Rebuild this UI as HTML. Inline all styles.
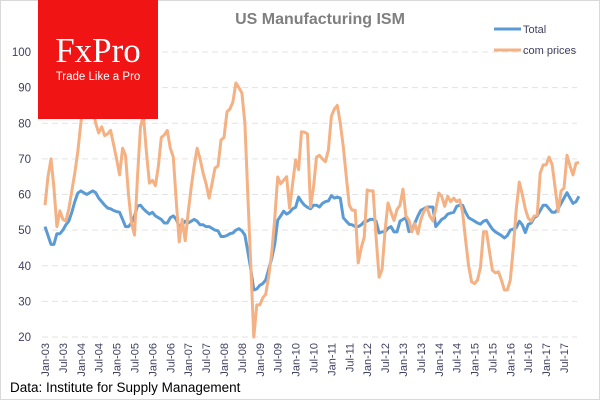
<!DOCTYPE html>
<html><head><meta charset="utf-8">
<style>
body{margin:0;background:#fff;}
#wrap{position:relative;width:600px;height:400px;overflow:hidden;font-family:"Liberation Sans",sans-serif;}
svg{position:absolute;left:0;top:0;}
</style></head>
<body>
<div id="wrap">
<svg id="chart" width="600" height="400">
  <rect x="0.5" y="0.5" width="599" height="399" fill="#fff" stroke="#d9d9d9"/>
  <g id="grid"></g>
  <g id="yaxis"></g>
  <g id="xaxis"></g>
  <g id="series"></g>
  <text x="320" y="24" text-anchor="middle" font-size="16" font-weight="bold" fill="#7f7f7f" font-family="Liberation Sans, sans-serif">US Manufacturing  ISM</text>
  <g>
    <g>
      <line x1="494" y1="29" x2="521" y2="29" stroke="#5b9bd5" stroke-width="3"/>
      <text x="523" y="33" font-size="11" fill="#404060">Total</text>
    </g>
    <g>
      <line x1="494" y1="50" x2="521" y2="50" stroke="#f4b183" stroke-width="3"/>
      <text x="523" y="54" font-size="11" fill="#404060">com prices</text>
    </g>
  </g>
  <g>
    <rect x="38" y="0" width="120" height="119" fill="#f01414"/>
    <text x="98" y="62" text-anchor="middle" font-family="Liberation Serif, serif" font-size="35" fill="#fff">FxPro</text>
    <text x="98" y="80" text-anchor="middle" font-size="11.5" fill="#fff">Trade Like a Pro</text>
  </g>
  <text x="10" y="392" font-size="13.5" fill="#000">Data: Institute for Supply Management</text>
</svg>
</div>
<script>
const yTicks = [20,30,40,50,60,70,80,90,100];
const xTickLabels = ["Jan-03","Jul-03","Jan-04","Jul-04","Jan-05","Jul-05","Jan-06","Jul-06","Jan-07","Jul-07","Jan-08","Jul-08","Jan-09","Jul-09","Jan-10","Jul-10","Jan-11","Jul-11","Jan-12","Jul-12","Jan-13","Jul-13","Jan-14","Jul-14","Jan-15","Jul-15","Jan-16","Jul-16","Jan-17","Jul-17"];
const totalValues = [
51,48.5,46,46,49,49,50,51.5,52.6,55,58,60.4,
61,60.5,60,60.5,61,60.5,59,58,57,56.2,56,55.5,
55.2,55,53,51,51,52,54,56.8,57,56,55.2,54.5,
55,54,53.5,53,52,52,53.5,54,53,51,51.5,52.5,
52,52.5,53,52.5,51.5,51.5,51,51,50.5,50,49.8,48.2,
48.2,48.5,49,49.2,50,50.4,49.8,48.6,44,39,33.2,33.5,
34.5,35,36,39,42,46,52.8,54,55.3,54.5,55,56,
56.4,59.3,58,57,56.4,56,57,57,56.5,57.5,58,58.2,
59.7,59,59.3,59,53.5,52.5,51.6,51.5,51,51,51.5,52.4,
52.5,53,53,52.5,49.2,49.5,49.5,50.5,51,49.5,49.5,52.5,
53,53.5,49.6,50,52,54,55.6,56,56.5,56.5,56.5,51,
52,53,53.5,54.5,54.8,55,56.7,57,57,55,53.5,53,
52.5,52,51.7,52.5,52.8,51.5,50.3,49.5,49,48.5,47.8,48.5,
50,50.3,50.7,52.5,51.5,49.3,51.6,52,53.5,54,55.5,57,
57,56,55,55,56,57.5,59,60.5,59,57.5,58,59.5];
const priceValues = [
57,65,70,62,51,55.4,53,52.6,56,61,66,72,
80,86,88,87,84,80,77.3,79,76.5,77,78,74,
70,65.5,73,71,60,52,48.6,65,79,82.3,72,63.2,
64,62.5,68,76,76.7,78,73,70.5,58,46.7,53,47,
55,62,68,73,70,66,63,59,63,67.4,68,75.3,
76,83.2,84,86,91.3,90,88.5,80,60,40,20,29,
29,31,32,37,43.6,53,64.9,63,64,65,56.2,63,
69.7,67,77.6,77.5,77,56.5,62,70.5,71,70,69.2,72.5,
82,84,85,80,73.4,65,57,55.6,55.6,40.8,45,48,
61.3,61,61,48,36.8,39,50,57.6,55,52.7,55.8,57,
61.5,54,52.8,49.5,51.8,49,53,55.2,56.5,54,52.6,56,
60.4,59.5,56.7,59.5,58,59,58,58.5,55,47.2,40,35.5,
35,36,39.6,49.5,49.5,44,38.7,38,38.3,36,33.2,33.2,
36,45,56,63.5,60,56,53.4,52.5,54,54.2,66,68.3,
68.3,70.5,68.4,62,55.2,61,61.8,71,68,65.5,68.8,69];

const NS = "http://www.w3.org/2000/svg";
const plotLeft = 45, monthStep = 2.983, yBase = 337, yScale = 3.5625;
function xPos(i){ return plotLeft + i*monthStep; }
function yPos(v){ return yBase - (v-20)*yScale; }

const grid = document.getElementById('grid');
const yaxis = document.getElementById('yaxis');
yTicks.forEach(t=>{
  const l = document.createElementNS(NS,'line');
  l.setAttribute('x1',42); l.setAttribute('x2',577);
  l.setAttribute('y1',yPos(t)); l.setAttribute('y2',yPos(t));
  l.setAttribute('stroke','#e3e3e3'); l.setAttribute('stroke-dasharray','6,4');
  
  
  grid.appendChild(l);
  const tx = document.createElementNS(NS,'text');
  tx.setAttribute('x',31); tx.setAttribute('y',yPos(t)+4);
  tx.setAttribute('text-anchor','end'); tx.setAttribute('font-size','11.5');
  tx.setAttribute('fill','#404060');
  tx.textContent = t;
  
  
  yaxis.appendChild(tx);
});
const xaxis = document.getElementById('xaxis');
xTickLabels.forEach((lab,k)=>{
  const x = xPos(k*6)+4;
  const tx = document.createElementNS(NS,'text');
  tx.setAttribute('transform','translate('+x+',343) rotate(-90)');
  tx.setAttribute('text-anchor','end'); tx.setAttribute('font-size','11');
  tx.setAttribute('fill','#404060');
  tx.textContent = lab;
  
  
  xaxis.appendChild(tx);
});
const series = document.getElementById('series');
function drawLine(vals,color,name){
  const p = document.createElementNS(NS,'polyline');
  p.setAttribute('points', vals.map((v,i)=>xPos(i).toFixed(1)+','+yPos(v).toFixed(1)).join(' '));
  p.setAttribute('fill','none'); p.setAttribute('stroke',color);
  p.setAttribute('stroke-width','3'); p.setAttribute('stroke-linejoin','round');
  
  
  series.appendChild(p);
}
drawLine(totalValues,'#5b9bd5','total-line');
drawLine(priceValues,'#f4b183','com-prices-line');
</script>
</body></html>
